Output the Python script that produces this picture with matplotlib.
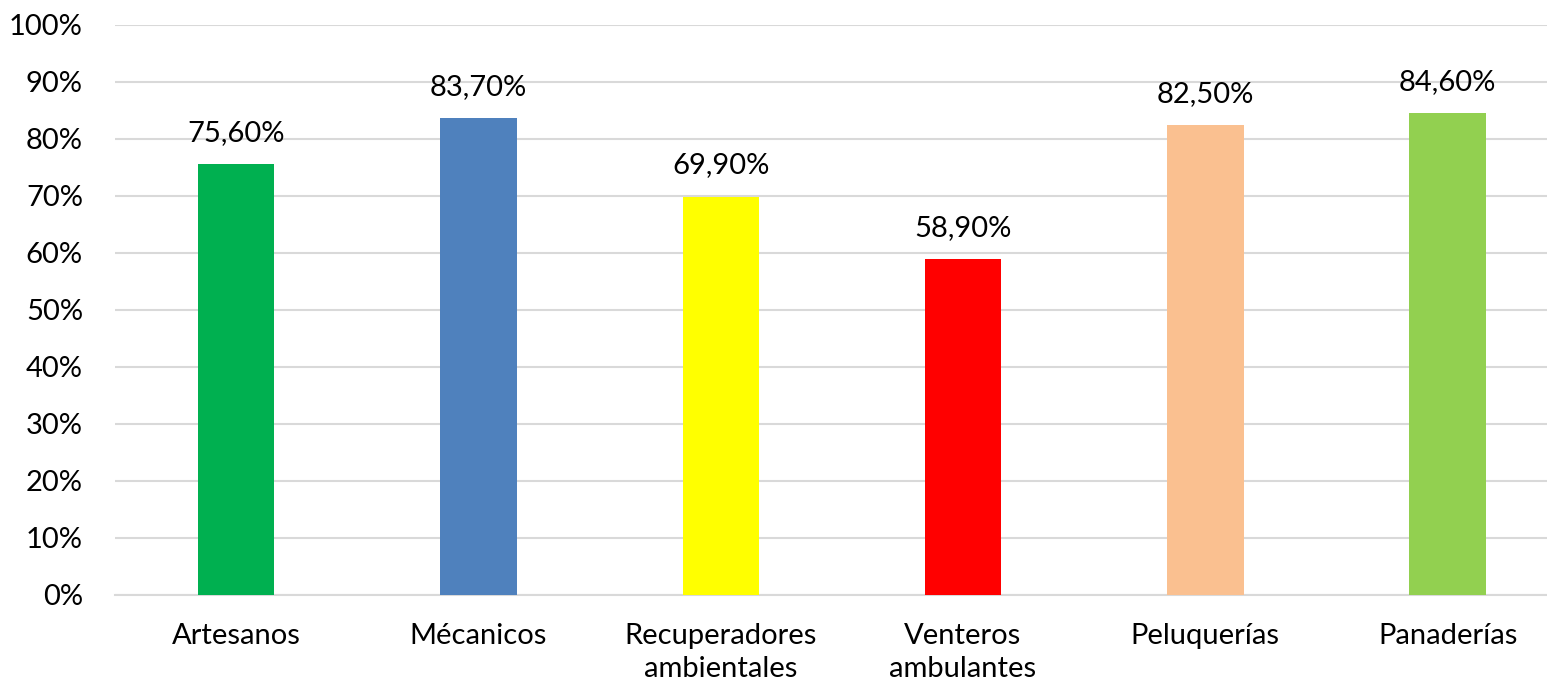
import matplotlib.pyplot as plt
from matplotlib.ticker import PercentFormatter

categories = ["Artesanos", "Mécanicos", "Recuperadores\nambientales", "Venteros\nambulantes", "Peluquerías", "Panaderías"]
values = [75.6, 83.7, 69.9, 58.9, 82.5, 84.6]
colors = ["#00B050", "#4F81BD", "#FFFF00", "#FF0000", "#FAC090", "#92D050"]

plt.rcParams['font.family'] = ['Lato', 'DejaVu Sans']

fig = plt.figure(figsize=(15.47, 6.86), dpi=100)
ax = fig.add_axes([0.0743, 0.1327, 0.9257, 0.8309])

x = range(len(categories))
bars = ax.bar(x, values, width=0.315, color=colors, zorder=3)
labels = [f"{v:.2f}".replace(".", ",") + "%" for v in values]
ax.bar_label(bars, labels=labels, padding=13, fontsize=21)

ax.set_ylim(0, 100)
ax.set_xlim(-0.5, 5.41)
ax.set_yticks(range(0, 101, 10))
ax.yaxis.set_major_formatter(PercentFormatter(decimals=0))
ax.set_xticks(list(x))
ax.set_xticklabels(categories, fontsize=21, linespacing=1.35)
ax.tick_params(axis='y', labelsize=21, length=0, pad=23)
ax.tick_params(axis='x', length=0, pad=20)
ax.grid(axis='y', color='#D9D9D9', linewidth=1.5, zorder=0)
for s in ['top', 'right', 'left']:
    ax.spines[s].set_visible(False)
ax.spines['bottom'].set_color('#D9D9D9')
ax.spines['bottom'].set_linewidth(1.5)

fig.savefig("out.png", dpi=100)
